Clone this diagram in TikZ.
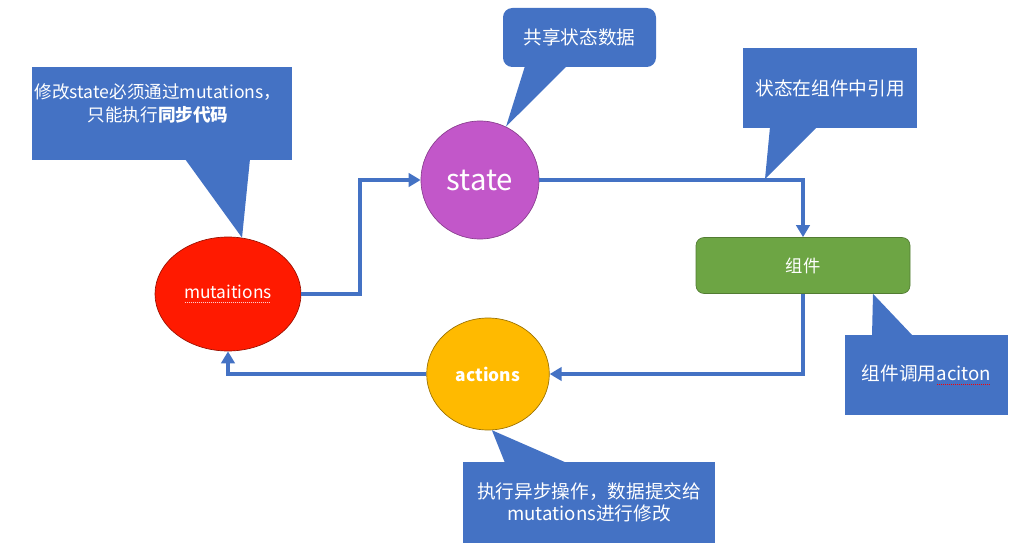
\documentclass[tikz,border=0pt]{standalone}
\usepackage{fontspec}
\setmainfont{Noto Sans CJK SC}
\usetikzlibrary{arrows.meta,shapes.geometric}

\definecolor{noteblue}{HTML}{4472C4}
\definecolor{flowblue}{HTML}{4472C4}
\definecolor{mutred}{HTML}{FF1A00}
\definecolor{statepurple}{HTML}{C257C9}
\definecolor{actgold}{HTML}{FFBA00}
\definecolor{compgreen}{HTML}{6DA544}

\newcommand{\spellmark}[2]{\setbox0\hbox{#2}\rlap{\raisebox{-2.8pt}{\hbox to\wd0{\color{#1}\leaders\hbox to 1.5pt{\hss\rule{0.8pt}{0.6pt}\hss}\hfill}}}\box0}

\begin{document}
\begin{tikzpicture}[x=0.75pt,y=-0.75pt,
    flow/.style={draw=flowblue,line width=3pt,-{Triangle[length=9pt,width=10pt]}},
    note/.style={fill=noteblue,inner sep=0pt},
    notetext/.style={text=white,align=center,font=\fontsize{14}{17}\selectfont},
    statenode/.style={circle,fill=statepurple,draw=statepurple!70!black,line width=0.5pt,minimum size=88.5pt,inner sep=0pt,text=white,font=\fontsize{22}{26}\selectfont},
    mutnode/.style={ellipse,fill=mutred,draw=mutred!60!black,line width=0.5pt,minimum width=109.5pt,minimum height=85.5pt,inner sep=0pt,text=white,font=\fontsize{13}{16}\selectfont},
    actnode/.style={ellipse,fill=actgold,draw=actgold!60!black,line width=0.5pt,minimum width=92pt,minimum height=84pt,inner sep=0pt,text=white,font=\fontsize{13}{16}\selectfont\bfseries},
    compnode/.style={rectangle,rounded corners=6pt,fill=compgreen,draw=compgreen!75!black,line width=0.5pt,minimum width=160.5pt,minimum height=42pt,inner sep=0pt,text=white,font=\fontsize{13}{16}\selectfont}]
\useasboundingbox (0,0) rectangle (1035,549);

\node[statenode] (state) at (480,180) {state};
\node[mutnode] (mut) at (228,294) {\spellmark{white!80!red}{mutaitions}};
\node[actnode] (act) at (488,374) {actions};
\node[compnode] (comp) at (803,265.5) {组件};

\draw[flow] (mut.east) -- ++(59,0) |- (state.west);
\draw[flow] (state.east) -| (comp.north);
\draw[flow] (comp.south) |- (act.east);
\draw[flow] (act.west) -| (mut.south);

\node[note,minimum width=195pt,minimum height=69.75pt] (mutnote) at (162,113.5) {};
\node[notetext,font=\fontsize{13.2}{17}\selectfont] (mutnotetext) at (158,103.5) {修改state必须通过mutations，\\只能执行\textbf{同步代码}};
\fill[noteblue] (185,159) -- (250,159) -- (mut.76) -- cycle;

\node[note,notetext,rounded corners=7pt,minimum width=114.75pt,minimum height=44.25pt] (statenote) at (579.5,37.5) {共享状态数据};
\fill[noteblue] (525,66) -- (567,66) -- (state.64) -- cycle;

\coordinate (compref) at (765,179);
\node[note,notetext,minimum width=130.5pt,minimum height=60pt] (compnote) at (830,88) {状态在组件中引用};
\fill[noteblue] (770,127) -- (817,127) -- (compref) -- cycle;

\node[note,notetext,minimum width=122.25pt,minimum height=60pt] (callnote) at (926.5,375) {组件调用\spellmark{red}{aciton}};
\fill[noteblue] (872,336) -- (913,336) -- ([xshift=52.5pt]comp.south) -- cycle;

\node[note,notetext,minimum width=189pt,minimum height=60.75pt] (actnote) at (589,502.5) {执行异步操作，数据提交给\\mutations进行修改};
\fill[noteblue] (505,463) -- (567,463) -- (act.-86) -- cycle;
\end{tikzpicture}
\end{document}
